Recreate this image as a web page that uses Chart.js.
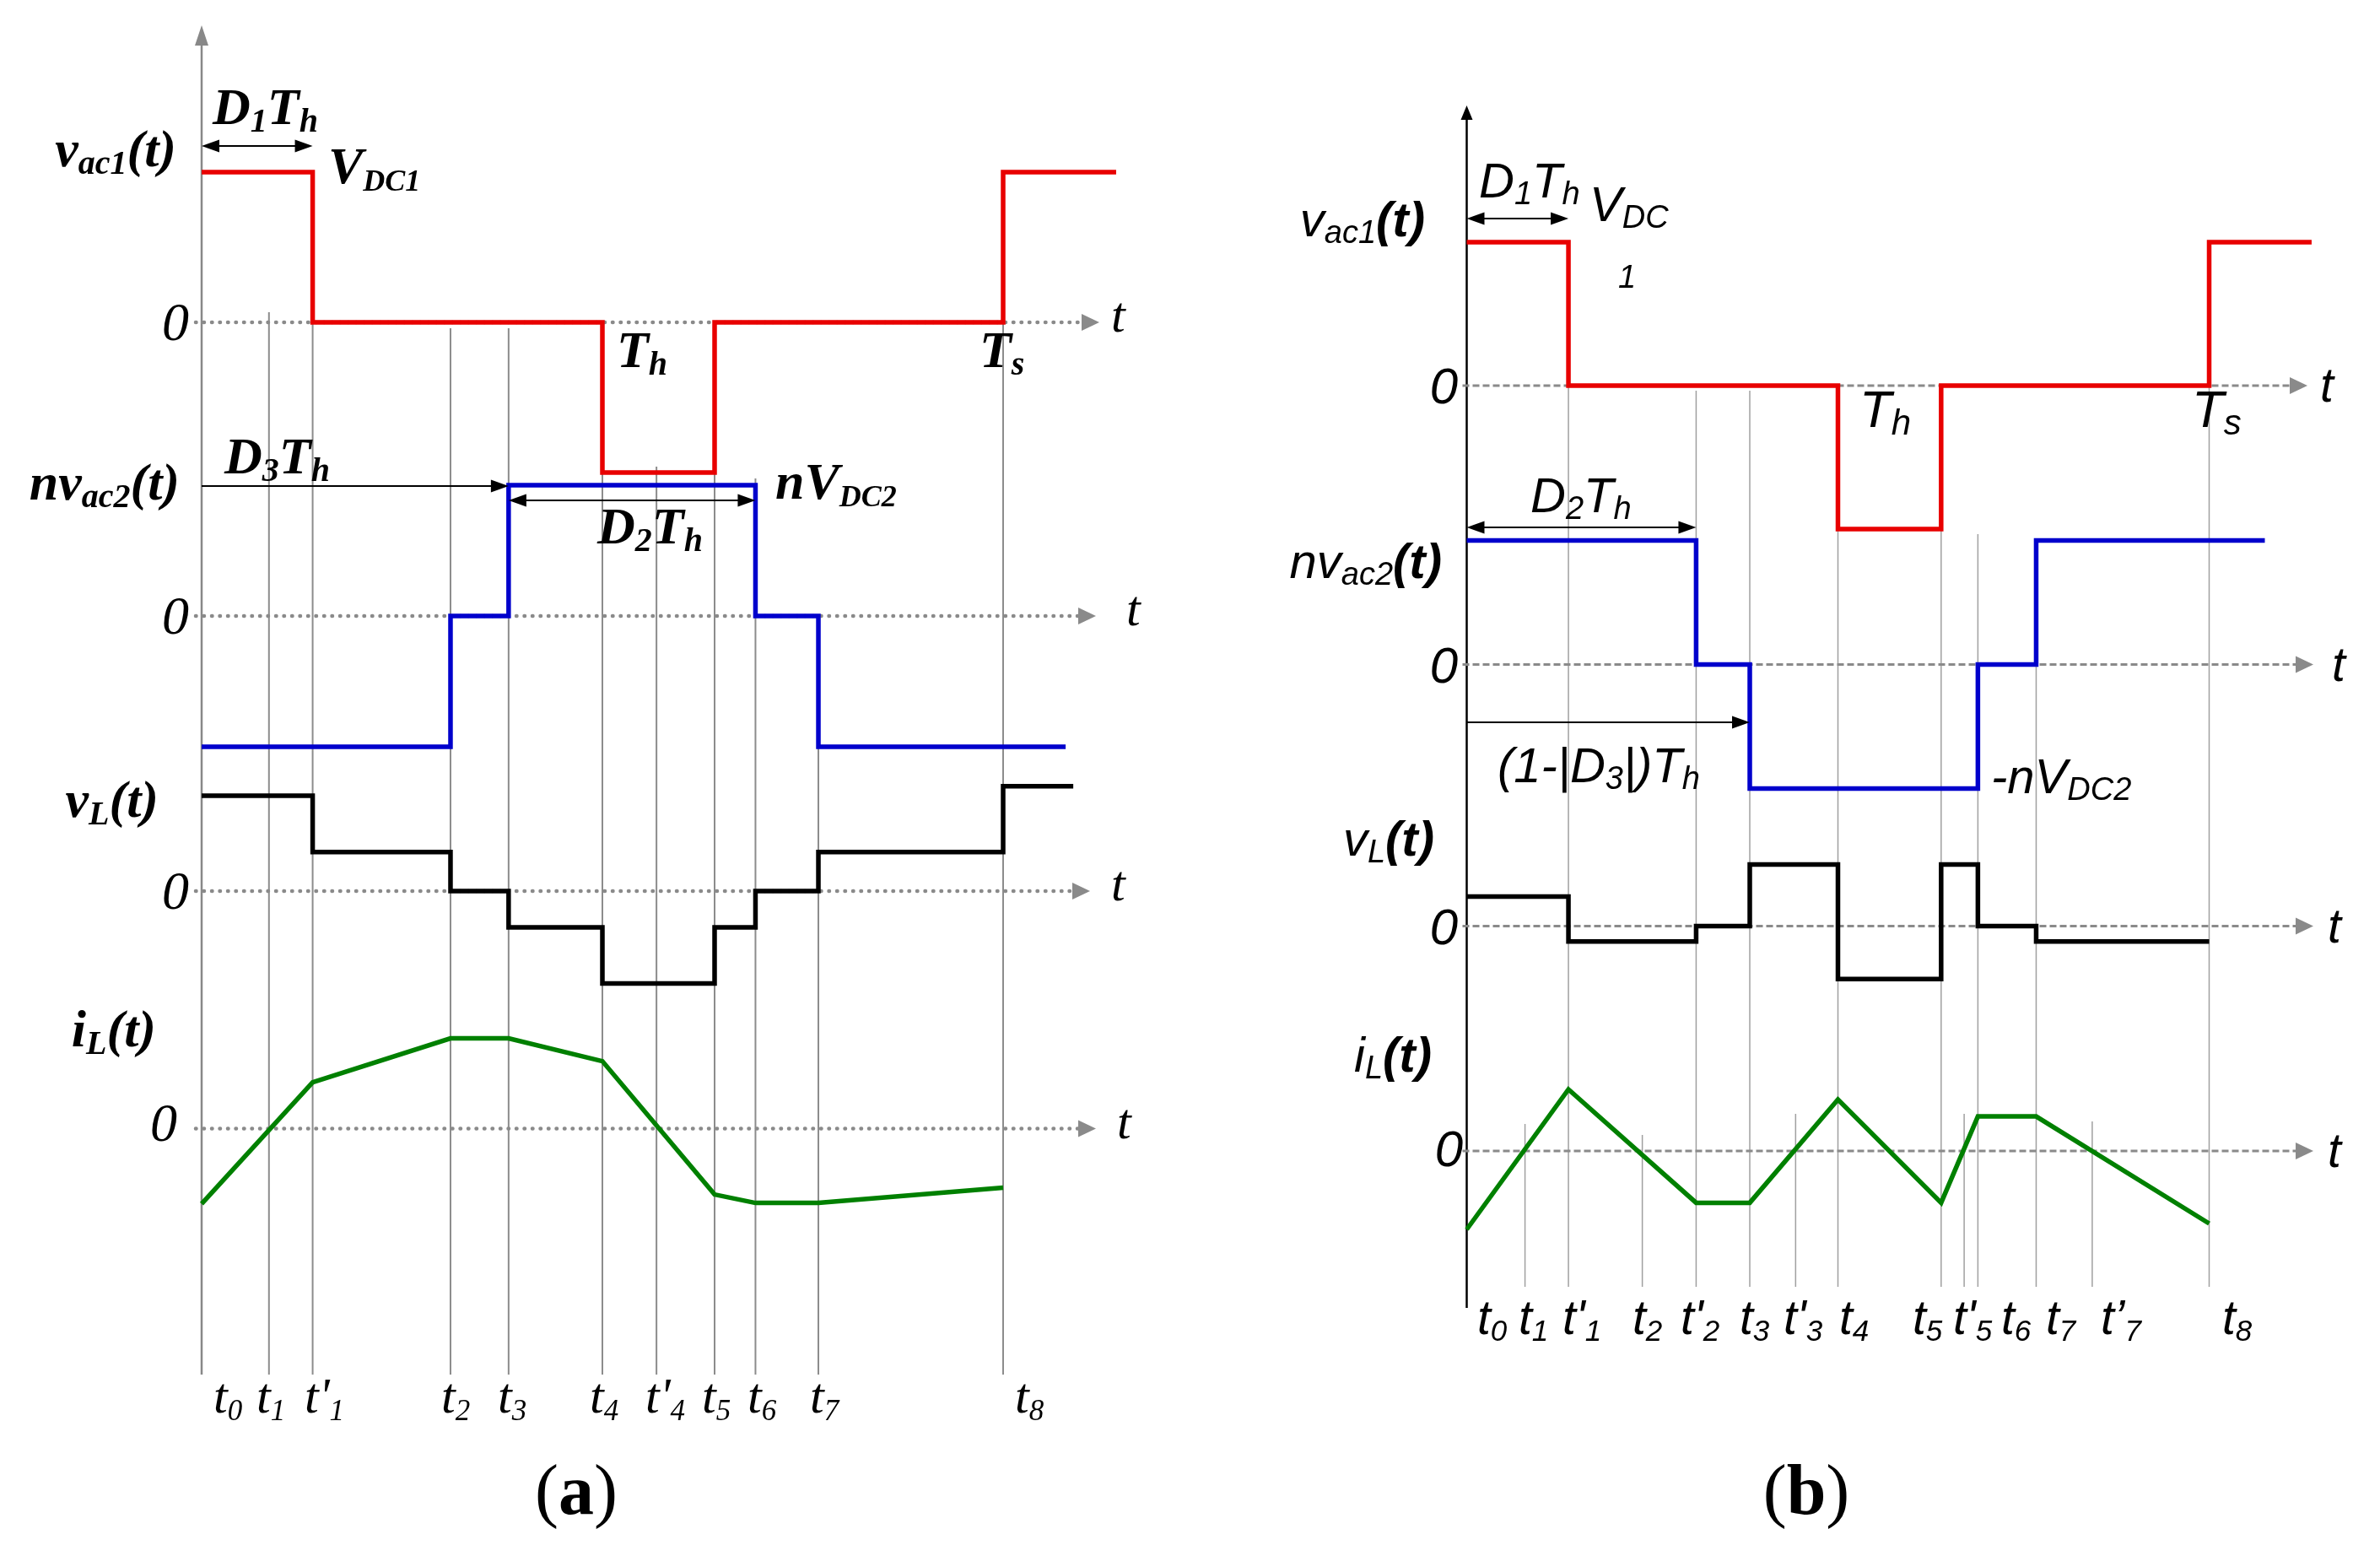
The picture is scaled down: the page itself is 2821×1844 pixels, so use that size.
<!DOCTYPE html>
<html>
<head>
<meta charset="utf-8">
<title>DAB converter waveforms</title>
<script src="https://cdn.jsdelivr.net/npm/chart.js"></script>
<style>
  html, body { margin: 0; padding: 0; background: #fff; }
  #wave { display: block; width: 2821px; height: 1844px; }
</style>
</head>
<body>
<canvas id="wave" width="2821" height="1844"></canvas>
<script>
var W = 2821, H = 1844;

// ---------- panel (a) : switching instants, in units of Th ----------
var instantsA = [0, 0.168, 0.277, 0.621, 0.766, 1.0, 1.135, 1.28, 1.382, 1.539, 2.0];
var instantNamesA = ['t_0', 't_1', "t'_1", 't_2', 't_3', 't_4', "t'_4", 't_5', 't_6', 't_7', 't_8'];

var vac1A_t = [0, 0.277, 1.0, 1.28, 2.0, 2.282];
var vac1A_v = [1, 0, -1, 0, 1, 1];
var nvac2A_t = [0, 0.621, 0.766, 1.382, 1.539, 2.156];
var nvac2A_v = [-1, 0, 1, 0, -1, -1];
var vLA_t = [0, 0.277, 0.621, 0.766, 1.0, 1.28, 1.382, 1.539, 2.0, 2.175];
var vLA_v = [1, 0.41, 0, -0.38, -0.97, -0.38, 0, 0.41, 1.1, 1.1];
var iLA_t = [0, 0.277, 0.621, 0.766, 1.0, 1.28, 1.382, 1.539, 2.0];
var iLA_v = [-0.89, 0.55, 1.07, 1.07, 0.8, -0.78, -0.88, -0.88, -0.7];

// ---------- panel (b) ----------
var instantsB = [0, 0.157, 0.274, 0.473, 0.618, 0.7625, 0.886, 1.0, 1.278, 1.34, 1.377, 1.534, 1.685, 2.0];
var instantNamesB = ['t_0', 't_1', "t'_1", 't_2', "t'_2", 't_3', "t'_3", 't_4', 't_5', "t'_5", 't_6', 't_7', 't\u2019_7', 't_8'];

var vac1B_t = [0, 0.274, 1.0, 1.278, 2.0, 2.276];
var vac1B_v = [1, 0, -1, 0, 1, 1];
var nvac2B_t = [0, 0.618, 0.7625, 1.377, 1.534, 2.15];
var nvac2B_v = [1, 0, -1, 0, 1, 1];
var vLB_t = [0, 0.274, 0.618, 0.7625, 1.0, 1.278, 1.377, 1.534, 2.0];
var vLB_v = [0.48, -0.25, 0, 1, -0.86, 1, 0, -0.25, -0.25];
var iLB_t = [0, 0.274, 0.618, 0.7625, 1.0, 1.278, 1.377, 1.534, 2.0];
var iLB_v = [-1, 0.785, -0.66, -0.66, 0.655, -0.66, 0.44, 0.44, -0.925];

// ---------- layout (pixels) ----------
var originA = 239, thPxA = 475;      // t=0 and one Th in px
var originB = 1738.5, thPxB = 440;
// each row: [zero line px, px per unit]
var rowsA = { vac1: [382, 178], nvac2: [730, 155], vL: [1056, 113], iL: [1337.6, 100] };
var rowsB = { vac1: [457, 170], nvac2: [787.5, 147], vL: [1097.5, 73], iL: [1364, 93] };

var guideTopA = [null, 370, 382, 389, 389, 558, 553, 558, 567, 884, 382];
var guideTopB = [null, 1332, 457, 1345, 463, 463, 1320, 625, 625, 1320, 633, 640, 1329, 457];
var guideBottomA = 1629, guideBottomB = 1525;

var tickLeftA = [253, 304, 361, 523, 590, 699, 765, 832, 886, 960, 1203];
var tickLeftB = [1751, 1800, 1852, 1935, 1992, 2062, 2114, 2180, 2267, 2315, 2372, 2425, 2490, 2634];

var SERIF = '"Liberation Serif", "Times New Roman", serif';
var SANS = '"Liberation Sans", Arial, sans-serif';

var RED = '#e80000', BLUE = '#0000cc', BLACK = '#000', GREEN = '#008000';

function xRange(o, k) {
    return { type: 'linear', axis: 'x', display: false, min: -o / k, max: (W - o) / k };
}
function yRange(r) {
    return { type: 'linear', axis: 'y', display: false, min: (r[0] - H) / r[1], max: r[0] / r[1] };
}

function trace(xs, ys, color, xId, yId, stepped) {
    return {
        data: xs.map(function (x, i) { return { x: x, y: ys[i] }; }),
        borderColor: color,
        borderWidth: 5.5,
        stepped: stepped,
        xAxisID: xId,
        yAxisID: yId,
        pointRadius: 0,
        fill: false,
        tension: 0,
        borderJoinStyle: 'miter',
        borderCapStyle: 'butt'
    };
}

// rich text: _{..} subscript, !{..} bold
function segs(str) {
    var out = [], buf = '', i = 0;
    while (i < str.length) {
        var c = str[i];
        if (c === '_' || c === '!') {
            if (buf) { out.push({ t: buf }); buf = ''; }
            var body;
            if (str[i + 1] === '{') {
                var j = str.indexOf('}', i + 2);
                body = str.slice(i + 2, j);
                i = j + 1;
            } else {
                body = str[i + 1];
                i += 2;
            }
            out.push(c === '_' ? { t: body, sub: true } : { t: body, bold: true });
        } else {
            buf += c;
            i++;
        }
    }
    if (buf) out.push({ t: buf });
    return out;
}

function drawRich(ctx, str, x, y, st) {
    var parts = segs(str);
    function font(p) {
        return (st.italic ? 'italic ' : '') + ((st.bold || p.bold) ? 'bold ' : '') +
            (p.sub ? st.sub : st.size) + 'px ' + st.family;
    }
    var w = 0;
    parts.forEach(function (p) { ctx.font = font(p); p.w = ctx.measureText(p.t).width; w += p.w; });
    var cx = st.align === 'right' ? x - w : (st.align === 'center' ? x - w / 2 : x);
    ctx.fillStyle = '#000';
    ctx.textAlign = 'left';
    ctx.textBaseline = 'alphabetic';
    parts.forEach(function (p) {
        ctx.font = font(p);
        ctx.fillText(p.t, cx, p.sub ? y + st.drop : y);
        cx += p.w;
    });
}

function head(ctx, x, y, dir, len, half, color) {
    ctx.fillStyle = color;
    ctx.beginPath();
    ctx.moveTo(x, y);
    ctx.lineTo(x - dir * len, y - half);
    ctx.lineTo(x - dir * len, y + half);
    ctx.closePath();
    ctx.fill();
}

function dimArrow(ctx, x1, x2, y, both) {
    ctx.save();
    ctx.strokeStyle = '#000';
    ctx.lineWidth = 2;
    ctx.setLineDash([]);
    ctx.beginPath();
    ctx.moveTo(x1 + (both ? 10 : 0), y);
    ctx.lineTo(x2 - 10, y);
    ctx.stroke();
    head(ctx, x2, y, 1, 21, 7.5, '#000');
    if (both) head(ctx, x1, y, -1, 21, 7.5, '#000');
    ctx.restore();
}

var styleA = { family: SERIF, size: 62, sub: 40, drop: 9, bold: true, italic: true };
var styleA_dc = { family: SERIF, size: 62, sub: 36, drop: 9, bold: true, italic: true };
var zeroA = { family: SERIF, size: 64, sub: 40, drop: 9, italic: true, align: 'right' };
var tickA = { family: SERIF, size: 60, sub: 35, drop: 9, italic: true };
var styleB = { family: SANS, size: 58, sub: 38, drop: 8, italic: true };
var styleB_T = { family: SANS, size: 62, sub: 42, drop: 9, italic: true };
var zeroB = { family: SANS, size: 60, sub: 38, drop: 8, italic: true, align: 'right' };
var tickB = { family: SANS, size: 57, sub: 35, drop: 8, italic: true };

function withAlign(s, a) { var o = {}; for (var k in s) o[k] = s[k]; o.align = a; return o; }

var zeroLinesA = [
    { row: 'vac1', tip: 1303, lx: 1317, zx: 224 },
    { row: 'nvac2', tip: 1299, lx: 1335, zx: 224 },
    { row: 'vL', tip: 1292, lx: 1317, zx: 224 },
    { row: 'iL', tip: 1299, lx: 1324, zx: 210 }
];
var zeroLinesB = [
    { row: 'vac1', tip: 2735, lx: 2750, zx: 1728 },
    { row: 'nvac2', tip: 2742, lx: 2764, zx: 1728 },
    { row: 'vL', tip: 2742, lx: 2759, zx: 1728 },
    { row: 'iL', tip: 2742, lx: 2759, zx: 1734 }
];

var overlay = {
    id: 'overlay',
    beforeDatasetsDraw: function (chart) {
        var ctx = chart.ctx, s = chart.scales;
        ctx.save();

        // guide lines
        ctx.setLineDash([]);
        ctx.strokeStyle = '#8c8c8c';
        ctx.lineWidth = 2;
        instantsA.forEach(function (t, i) {
            if (guideTopA[i] === null) return;
            var x = s.xa.getPixelForValue(t);
            ctx.beginPath(); ctx.moveTo(x, guideTopA[i]); ctx.lineTo(x, guideBottomA); ctx.stroke();
        });
        ctx.strokeStyle = '#a0a0a0';
        ctx.lineWidth = 1.5;
        instantsB.forEach(function (t, i) {
            if (guideTopB[i] === null) return;
            var x = s.xb.getPixelForValue(t);
            ctx.beginPath(); ctx.moveTo(x, guideTopB[i]); ctx.lineTo(x, guideBottomB); ctx.stroke();
        });

        // vertical axes
        var ax = s.xa.getPixelForValue(0);
        ctx.strokeStyle = '#888';
        ctx.lineWidth = 2.5;
        ctx.beginPath(); ctx.moveTo(ax, guideBottomA); ctx.lineTo(ax, 50); ctx.stroke();
        ctx.fillStyle = '#888';
        ctx.beginPath(); ctx.moveTo(ax, 30); ctx.lineTo(ax - 8, 54); ctx.lineTo(ax + 8, 54); ctx.closePath(); ctx.fill();

        var bx = s.xb.getPixelForValue(0);
        ctx.strokeStyle = '#000';
        ctx.lineWidth = 2.5;
        ctx.beginPath(); ctx.moveTo(bx, 1550); ctx.lineTo(bx, 138); ctx.stroke();
        ctx.fillStyle = '#000';
        ctx.beginPath(); ctx.moveTo(bx, 125); ctx.lineTo(bx - 7, 142); ctx.lineTo(bx + 7, 142); ctx.closePath(); ctx.fill();

        // zero lines (a): dotted
        zeroLinesA.forEach(function (z) {
            var y = s['ya_' + z.row].getPixelForValue(0);
            ctx.strokeStyle = '#8a8a8a';
            ctx.lineWidth = 4.5;
            ctx.lineCap = 'round';
            ctx.setLineDash([0.5, 9]);
            ctx.beginPath(); ctx.moveTo(ax - 7, y); ctx.lineTo(z.tip - 20, y); ctx.stroke();
            ctx.setLineDash([]);
            head(ctx, z.tip, y, 1, 21, 10, '#8a8a8a');
        });
        // zero lines (b): dashed
        zeroLinesB.forEach(function (z) {
            var y = s['yb_' + z.row].getPixelForValue(0);
            ctx.strokeStyle = '#8a8a8a';
            ctx.lineWidth = 3;
            ctx.lineCap = 'butt';
            ctx.setLineDash([8, 4]);
            ctx.beginPath(); ctx.moveTo(bx - 5, y); ctx.lineTo(z.tip - 20, y); ctx.stroke();
            ctx.setLineDash([]);
            head(ctx, z.tip, y, 1, 21, 10, '#8a8a8a');
        });
        ctx.restore();
    },
    afterDatasetsDraw: function (chart) {
        var ctx = chart.ctx, s = chart.scales;
        ctx.save();
        var xa = function (t) { return s.xa.getPixelForValue(t); };
        var xb = function (t) { return s.xb.getPixelForValue(t); };

        // dimension arrows
        dimArrow(ctx, xa(instantsA[0]), xa(instantsA[2]), 173, true);
        dimArrow(ctx, xa(instantsA[0]), xa(instantsA[4]), 576, false);
        dimArrow(ctx, xa(instantsA[4]), xa(instantsA[8]), 593, true);
        dimArrow(ctx, xb(instantsB[0]), xb(instantsB[2]), 259, true);
        dimArrow(ctx, xb(instantsB[0]), xb(instantsB[4]), 625, true);
        dimArrow(ctx, xb(instantsB[0]), xb(instantsB[5]), 856, false);

        // ---- panel (a) texts ----
        drawRich(ctx, 'D_1T_h', 252, 147, styleA);
        drawRich(ctx, 'V_{DC1}', 389, 217, styleA_dc);
        drawRich(ctx, 'T_h', 731, 435, styleA);
        drawRich(ctx, 'T_s', 1161, 435, styleA);
        drawRich(ctx, 'D_3T_h', 266, 561, styleA);
        drawRich(ctx, 'D_2T_h', 708, 644, styleA);
        drawRich(ctx, 'nV_{DC2}', 919, 591, styleA_dc);

        var nameA = withAlign(styleA, 'right');
        drawRich(ctx, 'v_{ac1}(t)', 209, 197, nameA);
        drawRich(ctx, 'nv_{ac2}(t)', 213, 592, nameA);
        drawRich(ctx, 'v_L(t)', 188, 968, nameA);
        drawRich(ctx, 'i_L(t)', 185, 1240, nameA);

        zeroLinesA.forEach(function (z) {
            var y = s['ya_' + z.row].getPixelForValue(0);
            drawRich(ctx, '0', z.zx, y + (z.row === 'iL' ? 14 : 21), zeroA);
            drawRich(ctx, 't', z.lx, y + 11, tickA);
        });
        instantNamesA.forEach(function (n, i) { drawRich(ctx, n, tickLeftA[i], 1674, tickA); });

        // ---- panel (b) texts ----
        drawRich(ctx, 'D_1T_h', 1753, 234, styleB);
        drawRich(ctx, 'V_{DC}', 1884, 262, styleB);
        drawRich(ctx, '1', 1918, 341, { family: SANS, size: 38, sub: 30, drop: 0, italic: true });
        drawRich(ctx, 'T_h', 2204, 506, styleB_T);
        drawRich(ctx, 'T_s', 2598, 506, styleB_T);
        drawRich(ctx, 'D_2T_h', 1814, 607, styleB);
        drawRich(ctx, '(1-|D_3|)T_h', 1775, 927, styleB);
        drawRich(ctx, '-nV_{DC2}', 2360, 940, styleB);

        var nameB = withAlign(styleB, 'right');
        drawRich(ctx, 'v_{ac1}!{(t)}', 1689, 280, nameB);
        drawRich(ctx, 'nv_{ac2}!{(t)}', 1709, 685, nameB);
        drawRich(ctx, 'v_L!{(t)}', 1700, 1014, nameB);
        drawRich(ctx, 'i_L!{(t)}', 1697, 1270, nameB);

        zeroLinesB.forEach(function (z) {
            var y = s['yb_' + z.row].getPixelForValue(0);
            drawRich(ctx, '0', z.zx, y + (z.row === 'iL' ? 18 : 21), zeroB);
            drawRich(ctx, 't', z.lx, y + 19, tickB);
        });
        instantNamesB.forEach(function (n, i) { drawRich(ctx, n, tickLeftB[i], 1581, tickB); });

        // captions
        var cap = { family: SERIF, size: 84, sub: 50, drop: 0, align: 'center' };
        drawRich(ctx, '(!a)', 683, 1794, cap);
        drawRich(ctx, '(!b)', 2141, 1794, cap);
        ctx.restore();
    }
};

var scales = {
    xa: xRange(originA, thPxA),
    xb: xRange(originB, thPxB),
    ya_vac1: yRange(rowsA.vac1),
    ya_nvac2: yRange(rowsA.nvac2),
    ya_vL: yRange(rowsA.vL),
    ya_iL: yRange(rowsA.iL),
    yb_vac1: yRange(rowsB.vac1),
    yb_nvac2: yRange(rowsB.nvac2),
    yb_vL: yRange(rowsB.vL),
    yb_iL: yRange(rowsB.iL)
};

var datasets = [
    trace(vac1A_t, vac1A_v, RED, 'xa', 'ya_vac1', true),
    trace(nvac2A_t, nvac2A_v, BLUE, 'xa', 'ya_nvac2', true),
    trace(vLA_t, vLA_v, BLACK, 'xa', 'ya_vL', true),
    trace(iLA_t, iLA_v, GREEN, 'xa', 'ya_iL', false),
    trace(vac1B_t, vac1B_v, RED, 'xb', 'yb_vac1', true),
    trace(nvac2B_t, nvac2B_v, BLUE, 'xb', 'yb_nvac2', true),
    trace(vLB_t, vLB_v, BLACK, 'xb', 'yb_vL', true),
    trace(iLB_t, iLB_v, GREEN, 'xb', 'yb_iL', false)
];

var chart = new Chart(document.getElementById('wave').getContext('2d'), {
    type: 'line',
    data: { datasets: datasets },
    options: {
        responsive: false,
        maintainAspectRatio: false,
        devicePixelRatio: 1,
        animation: false,
        events: [],
        layout: { padding: 0 },
        scales: scales,
        plugins: {
            legend: { display: false },
            tooltip: { enabled: false },
            title: { display: false }
        }
    },
    plugins: [overlay]
});
</script>
</body>
</html>
